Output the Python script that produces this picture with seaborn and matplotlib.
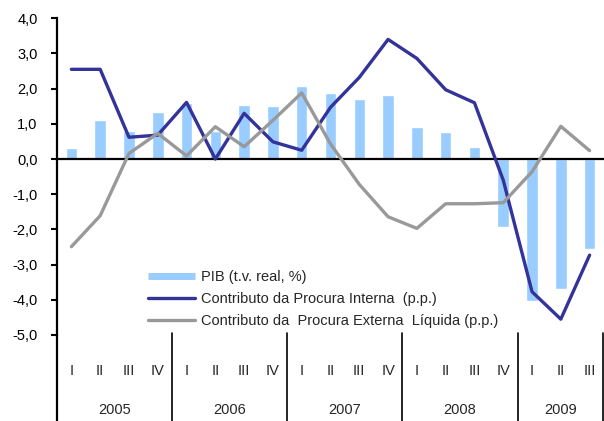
import numpy as np
import pandas as pd
import matplotlib
matplotlib.use("Agg")
import matplotlib.pyplot as plt
from matplotlib.lines import Line2D
import seaborn as sns

quarters = ["I", "II", "III", "IV"] * 4 + ["I", "II", "III"]
years = ["2005", "2006", "2007", "2008", "2009"]
year_quarters = [4, 4, 4, 4, 3]
pib = [0.3, 1.1, 0.8, 1.35, 1.6, 0.8, 1.55, 1.5, 2.07, 1.87, 1.7, 1.81,
       0.92, 0.77, 0.34, -1.92, -4.02, -3.7, -2.55]
interna = [2.55, 2.55, 0.62, 0.68, 1.61, 0.0, 1.3, 0.49, 0.25, 1.47, 2.32, 3.4,
           2.86, 1.97, 1.6, -0.6, -3.77, -4.55, -2.73]
externa = [-2.49, -1.61, 0.16, 0.73, 0.09, 0.92, 0.35, 1.1, 1.88, 0.43, -0.72, -1.64,
           -1.97, -1.27, -1.27, -1.24, -0.36, 0.93, 0.24]
labels = ["PIB (t.v. real, %)",
          "Contributo da Procura Interna  (p.p.)",
          "Contributo da  Procura Externa  Líquida (p.p.)"]
yticks = [4, 3, 2, 1, 0, -1, -2, -3, -4, -5]

bar_color = "#99CCFF"
blue = "#333399"
gray = "#999999"
FS = 10.5

sns.set_style("white")
plt.rcParams["font.family"] = ["Liberation Sans", "DejaVu Sans"]
plt.rcParams["font.size"] = FS

W, H = 604, 421
fig = plt.figure(figsize=(W / 100, H / 100), dpi=100)
ax_left, ax_right, ax_top, ax_bot = 57, 604, 18.3, 335
ax = fig.add_axes([ax_left / W, (H - ax_bot) / H, (ax_right - ax_left) / W, (ax_bot - ax_top) / H])

df = pd.DataFrame({"pos": np.arange(len(pib)), "pib": pib, "interna": interna, "externa": externa})

sns.barplot(data=df, x="pos", y="pib", color=bar_color, saturation=1, width=0.4, ax=ax, zorder=1)
ax.axhline(0, color="black", lw=1.6, zorder=2)
sns.lineplot(data=df, x="pos", y="interna", color=blue, lw=2.4, ax=ax, zorder=3)
sns.lineplot(data=df, x="pos", y="externa", color=gray, lw=2.4, ax=ax, zorder=3)

ax.set_xlim(-0.5, len(pib) - 0.5)
ax.set_ylim(-5, 4)
ax.set_xticks([])
ax.set_xlabel("")
ax.set_ylabel("")
ax.set_yticks(yticks)
ax.set_yticklabels([f"{v:.1f}".replace(".", ",") for v in yticks], fontsize=FS)
ax.tick_params(axis="y", which="both", left=True, direction="out", length=4, width=1.5, pad=10, colors="black")
for s in ["top", "right", "bottom"]:
    ax.spines[s].set_visible(False)
ax.spines["left"].set_linewidth(1.6)
ax.spines["left"].set_color("black")

# bottom category table
axh = ax_bot - ax_top
def ay(py):
    return (ax_bot - py) / axh

tr = ax.get_xaxis_transform()
for i, q in enumerate(quarters):
    ax.text(i, ay(371), q, transform=tr, ha="center", va="center", fontsize=FS, clip_on=False)
start = 0
seps = [-0.5]
for y, n in zip(years, year_quarters):
    ax.text(start + (n - 1) / 2, ay(410), y, transform=tr, ha="center", va="center", fontsize=FS, clip_on=False)
    start += n
    seps.append(start - 0.5)
for k, s in enumerate(seps):
    xs = s if k < len(seps) - 1 else s - 0.03
    ax.add_line(Line2D([xs, xs], [0 if k == 0 else ay(333), ay(H + 2)], transform=tr,
                       color="black", lw=1.6 if k == 0 else 1.2, clip_on=False))

handles = [Line2D([], [], color=bar_color, lw=5, solid_capstyle="butt"),
           Line2D([], [], color=blue, lw=2.4),
           Line2D([], [], color=gray, lw=2.4)]
ax.legend(handles, labels, loc="upper left", bbox_to_anchor=(148 / W, 1 - 270 / H),
          bbox_transform=fig.transFigure, frameon=False, fontsize=FS,
          handlelength=3.2, handletextpad=0.45, labelspacing=0.55, borderpad=0, borderaxespad=0)

fig.savefig("out.png", dpi=100)
